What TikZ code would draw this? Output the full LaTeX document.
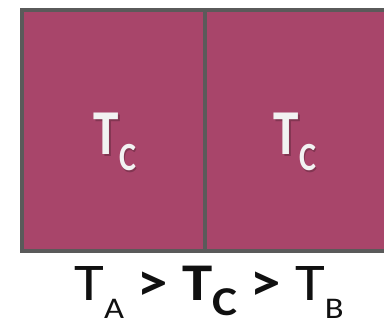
\documentclass[tikz,border=0pt]{standalone}
\usepackage{fontspec}
\setmainfont{Carlito}
\usetikzlibrary{positioning}
\definecolor{plum}{HTML}{A8456A}
\definecolor{frame}{HTML}{5A5A5A}
\definecolor{snow}{HTML}{F2F2F2}
\definecolor{ink}{HTML}{101010}

\newcommand{\boxtemp}{\fontsize{64}{64}\selectfont\bfseries T\raisebox{-16pt}{\fontsize{40}{40}\selectfont C}}

\begin{document}
\begin{tikzpicture}[x=1pt,y=1pt,
cell/.style={draw=frame,line width=4pt,fill=plum},
temp/.style={text=snow,inner sep=0pt,anchor=base,xscale=0.8,transform shape},
shade/.style={temp,text=black,opacity=0.22}]
 \useasboundingbox (0,0) rectangle (384,327);
 \clip (0,0) rectangle (384,327);
 % the two cells
 \draw[cell] (22,76) rectangle (205,317);
 \draw[cell] (205,76) rectangle (392,317);
 % labels inside
 \node[shade] (shadeA) at (116.2,170.8) {\boxtemp};
 \node[temp] (cellA) at (115,172) {\boxtemp};
 \node[shade] (shadeB) at (296.2,170.8) {\boxtemp};
 \node[temp] (cellB) at (295,172) {\boxtemp};
 % ordering below
 \node[inner sep=0pt,anchor=base,text=ink,xscale=1.15,transform shape] (order) at (209,26)
  {\fontsize{53}{53}\selectfont T\raisebox{-18pt}{\fontsize{30}{30}\selectfont A}
   \textbf{>} \textbf{T\raisebox{-15pt}{\fontsize{41}{41}\selectfont C}} \textbf{>}
   T\raisebox{-18pt}{\fontsize{30}{30}\selectfont B}};
\end{tikzpicture}
\end{document}
